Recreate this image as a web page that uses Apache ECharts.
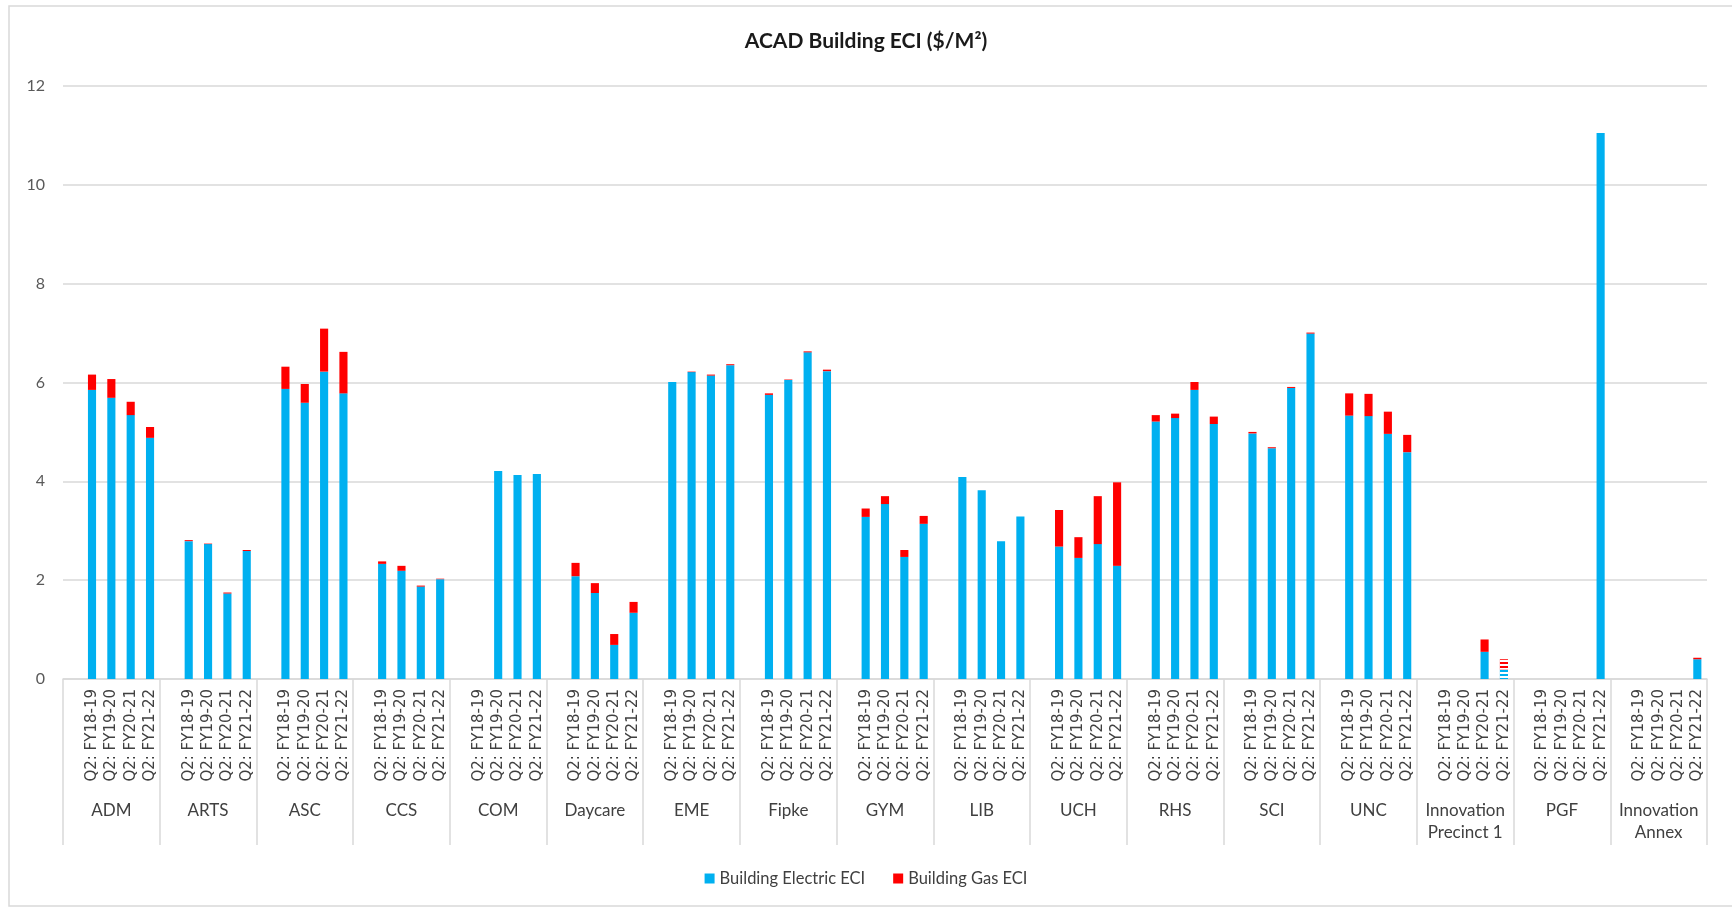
<!DOCTYPE html>
<html>
<head>
<meta charset="utf-8">
<title>ACAD Building ECI</title>
<script src="https://cdn.jsdelivr.net/npm/echarts@6/dist/echarts.min.js"></script>
<style>
    html, body { margin: 0; padding: 0; background: #fff; }
    #chart { width: 1732px; height: 909px; }
</style>
</head>
<body>
<div id="chart"></div>
<script>
// 建筑分组
var groups = ['ADM', 'ARTS', 'ASC', 'CCS', 'COM', 'Daycare', 'EME', 'Fipke', 'GYM', 'LIB',
    'UCH', 'RHS', 'SCI', 'UNC', 'Innovation Precinct 1', 'PGF', 'Innovation Annex'];
// 每组四个季度
var quarters = ['Q2: FY18-19', 'Q2: FY19-20', 'Q2: FY20-21', 'Q2: FY21-22'];
// 电 ECI，每组四个值
var electric = [
    5.85, 5.69, 5.34, 4.88,   // ADM
    2.79, 2.73, 1.73, 2.59,   // ARTS
    5.87, 5.59, 6.22, 5.78,   // ASC
    2.33, 2.19, 1.87, 2.02,   // CCS
    0, 4.21, 4.13, 4.15,      // COM
    2.08, 1.74, 0.69, 1.34,   // Daycare
    6.01, 6.21, 6.14, 6.35,   // EME
    5.75, 6.05, 6.61, 6.23,   // Fipke
    3.28, 3.54, 2.47, 3.14,   // GYM
    4.09, 3.82, 2.79, 3.29,   // LIB
    2.68, 2.45, 2.73, 2.29,   // UCH
    5.21, 5.28, 5.85, 5.16,   // RHS
    4.97, 4.67, 5.89, 6.99,   // SCI
    5.33, 5.32, 4.96, 4.59,   // UNC
    0, 0, 0.55, 0.19,         // Innovation Precinct 1
    0, 0, 0, 11.05,           // PGF
    0, 0, 0, 0.40             // Innovation Annex
];
// 气 ECI
var gas = [
    0.31, 0.38, 0.27, 0.22,
    0.02, 0.01, 0.02, 0.02,
    0.45, 0.38, 0.87, 0.84,
    0.05, 0.10, 0.02, 0.01,
    0, 0, 0, 0,
    0.27, 0.20, 0.22, 0.22,
    0, 0.01, 0.02, 0.02,
    0.03, 0.01, 0.02, 0.03,
    0.17, 0.16, 0.14, 0.16,
    0, 0, 0, 0,
    0.74, 0.42, 0.97, 1.69,
    0.13, 0.09, 0.16, 0.15,
    0.03, 0.02, 0.02, 0.02,
    0.45, 0.45, 0.45, 0.35,
    0, 0, 0.25, 0.21,
    0, 0, 0, 0,
    0, 0, 0, 0.03
];

var GRID = '#d9d9d9';
var BLUE = '#00B0F0';
var RED = '#FF0000';

// 每组前面空一格，组成 85 个类目
var catLabels = [];
var elecData = [];
var gasData = [];
for (var g = 0; g < groups.length; g++) {
    catLabels.push('');
    elecData.push('-');
    gasData.push('-');
    for (var q = 0; q < quarters.length; q++) {
        var idx = g * 4 + q;
        catLabels.push(quarters[q]);
        elecData.push(electric[idx]);
        gasData.push(gas[idx]);
    }
}

// Innovation Precinct 1 最后一根是条纹
var stripe = {
    symbol: 'rect', symbolSize: 1, dashArrayX: [1, 0], dashArrayY: [1.6, 1.8],
    color: '#ffffff', rotation: 0
};
var ip1 = 14 * 5 + 4;
elecData[ip1] = { value: elecData[ip1], itemStyle: { decal: stripe } };
gasData[ip1] = { value: gasData[ip1], itemStyle: { decal: stripe } };

var chart = echarts.init(document.getElementById('chart'));
chart.setOption({
    animation: false,
    backgroundColor: '#fff',
    graphic: [{
        type: 'rect',
        shape: { x: 9, y: 6, width: 1760, height: 900 },
        style: { fill: 'none', stroke: GRID, lineWidth: 1.5 },
        silent: true
    }],
    title: {
        text: 'ACAD Building ECI ($/M²)',
        left: 'center',
        top: 26,
        textStyle: { fontFamily: 'Lato', fontSize: 21, fontWeight: 'bold', color: '#1a1a1a' }
    },
    legend: {
        bottom: 17,
        left: 'center',
        icon: 'rect',
        itemWidth: 10,
        itemHeight: 10,
        itemGap: 28,
        textStyle: { fontFamily: 'Lato', fontSize: 16.5, color: '#404040' },
        data: ['Building Electric ECI', 'Building Gas ECI']
    },
    grid: { left: 63, right: 25, top: 86, bottom: 230 },
    xAxis: [{
        type: 'category',
        data: catLabels,
        axisLine: { lineStyle: { color: GRID, width: 1.5 } },
        axisTick: { show: false },
        axisLabel: {
            interval: 0, rotate: 90, margin: 10,
            fontFamily: 'DejaVu Sans', fontSize: 15, color: '#404040'
        }
    }, {
        type: 'category',
        position: 'bottom',
        data: groups,
        axisLine: { show: false },
        axisTick: { show: true, interval: 0, length: 166, lineStyle: { color: GRID, width: 1.5 } },
        axisLabel: {
            interval: 0, margin: 121,
            fontFamily: 'Lato', fontSize: 17, lineHeight: 22, color: '#404040',
            formatter: function (v) { return v.replace('Innovation ', 'Innovation\n'); }
        }
    }],
    yAxis: {
        type: 'value',
        min: 0,
        max: 12,
        interval: 2,
        axisLine: { show: false },
        axisTick: { show: false },
        splitLine: { lineStyle: { color: GRID, width: 1.5 } },
        axisLabel: { margin: 18, fontFamily: 'Lato', fontSize: 16, color: '#595959' }
    },
    series: [{
        name: 'Building Electric ECI',
        type: 'bar',
        stack: 'eci',
        barWidth: '42%',
        itemStyle: { color: BLUE },
        data: elecData
    }, {
        name: 'Building Gas ECI',
        type: 'bar',
        stack: 'eci',
        barWidth: '42%',
        itemStyle: { color: RED },
        data: gasData
    }]
});
</script>
</body>
</html>
